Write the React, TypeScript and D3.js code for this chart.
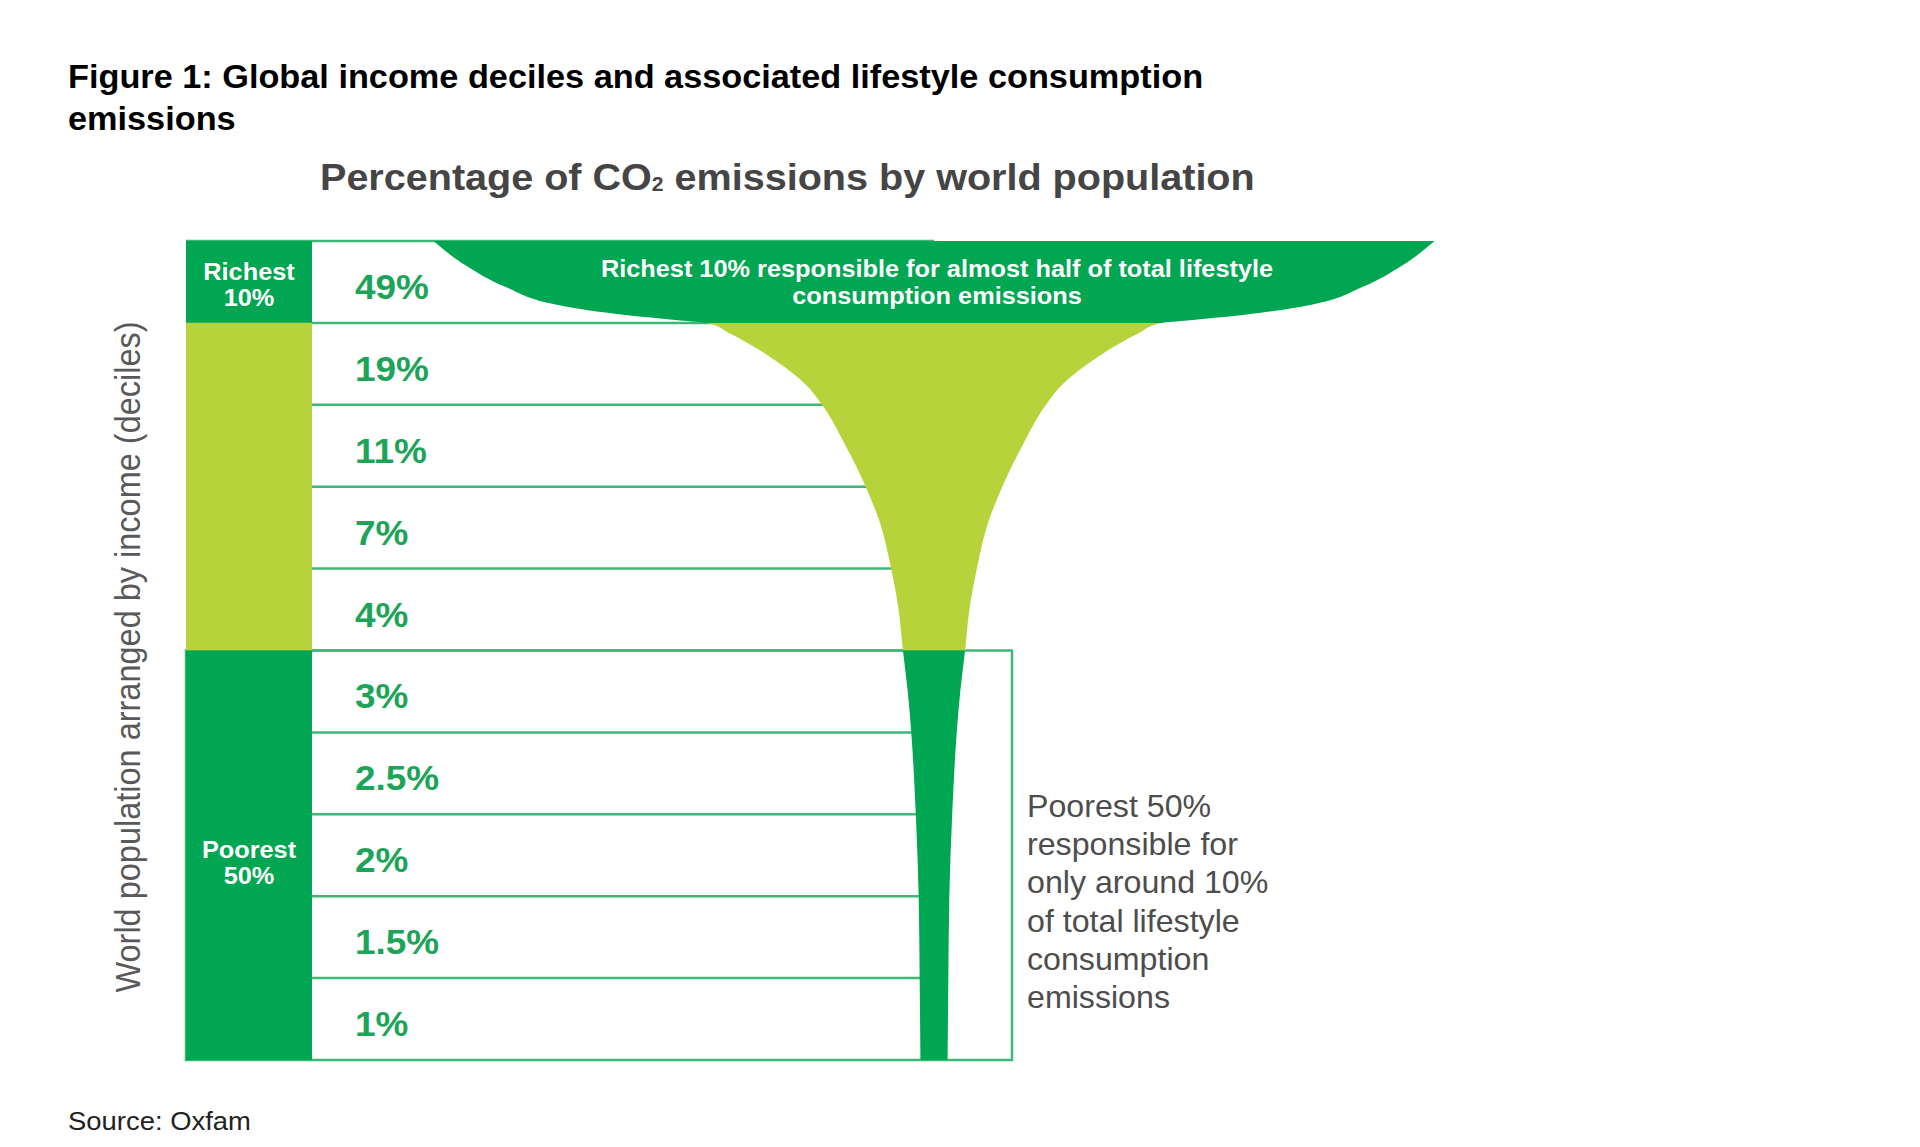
import React from "react";
import * as d3 from "d3";

// ---------- data ----------
const titleLines = [
  "Figure 1: Global income deciles and associated lifestyle consumption",
  "emissions",
];
const subtitleMain = "Percentage of CO";
const subtitleSub = "2";
const subtitleRest = " emissions by world population";
const yAxisLabel = "World population arranged by income (deciles)";
const sourceText = "Source: Oxfam";

// share of lifestyle consumption emissions per income decile (richest first)
const shares = [49, 19, 11, 7, 4, 3, 2.5, 2, 1.5, 1];
const shareLabels = ["49%", "19%", "11%", "7%", "4%", "3%", "2.5%", "2%", "1.5%", "1%"];

// income groups (in decile positions)
const groupNames = ["Richest 10%", "Middle 40%", "Poorest 50%"];
const groupLabelLines = [["Richest", "10%"], [], ["Poorest", "50%"]];
const groupFrom = [0, 1, 5];
const groupTo = [1, 5, 10];
const groupTone = ["dark", "light", "dark"];

// funnel outline: [decile position, width in emission-% units]
const funnelPos = [0, 0.3, 0.56, 0.78, 0.9, 0.97, 1.0, 1.125, 1.25, 1.5, 1.75, 2.0, 2.5, 3.0, 3.5, 4.0, 4.5, 5.0, 5.5, 6.0, 7.0, 8.0, 9.0, 10];
const funnelWidth = [57.2, 53.5, 49, 43, 35.5, 29, 26, 23.4, 21.2, 17.6, 14.7, 12.8, 10.1, 7.8, 6.0, 4.9, 4.05, 3.55, 3.0, 2.6, 2.08, 1.75, 1.64, 1.55];

const richNote = [
  "Richest 10% responsible for almost half of total lifestyle",
  "consumption emissions",
];
const poorNote = [
  "Poorest 50%",
  "responsible for",
  "only around 10%",
  "of total lifestyle",
  "consumption",
  "emissions",
];

// ---------- styling / layout ----------
const W = 1920;
const H = 1147;
const SX = 1.055; // horizontal stretch of the original artwork's text
const FONT = "'Liberation Sans', Arial, Helvetica, sans-serif";
const DARK = "#00a651";
const LIGHT = "#b7d33c";
const PCT = "#1da459";
const LINE = "#3fb877";

const TOP = 241;
const BOTTOM = 1060;
const COL_X0 = 186;
const COL_X1 = 312;
const CENTER = 934;
const PX_PER_PCT = 17.5;
const BOX_RIGHT = 1012;

function ST(props: {
  x: number;
  y: number;
  anchor?: "start" | "middle" | "end";
  size: number;
  weight?: string | number;
  fill: string;
  children: React.ReactNode;
  rotate?: number;
}) {
  const { x, y, anchor = "start", size, weight = "normal", fill, children, rotate } = props;
  const tr = `translate(${x},${y}) scale(${SX},1)` + (rotate ? ` rotate(${rotate})` : "");
  return (
    <text
      transform={tr}
      textAnchor={anchor}
      fontSize={size}
      fontWeight={weight}
      fill={fill}
      fontFamily={FONT}
    >
      {children}
    </text>
  );
}

export default function App() {
  const yScale = d3.scaleLinear().domain([0, 10]).range([TOP, BOTTOM]);
  const xScale = d3
    .scaleLinear()
    .domain([-50, 50])
    .range([CENTER - 50 * PX_PER_PCT, CENTER + 50 * PX_PER_PCT]);

  const profile: [number, number][] = funnelPos.map((p, i) => [p, funnelWidth[i]]);
  const area = d3
    .area<[number, number]>()
    .y((d) => yScale(d[0]))
    .x0((d) => xScale(-d[1] / 2))
    .x1((d) => xScale(d[1] / 2))
    .curve(d3.curveMonotoneY);
  const funnelPath = area(profile) || "";

  const toneColor = (t: string) => (t === "dark" ? DARK : LIGHT);

  return (
    <svg
      width={W}
      height={H}
      viewBox={`0 0 ${W} ${H}`}
      style={{ position: "absolute", left: 0, top: 0, background: "#fff" }}
    >
      <rect x={0} y={0} width={W} height={H} fill="#fff" />
      <defs>
        {groupNames.map((g, i) => (
          <clipPath id={`clip-${i}`} key={g}>
            <rect
              x={0}
              y={yScale(groupFrom[i])}
              width={W}
              height={yScale(groupTo[i]) - yScale(groupFrom[i])}
            />
          </clipPath>
        ))}
      </defs>

      {/* title */}
      {titleLines.map((t, i) => (
        <ST key={t} x={68} y={88 + i * 42} size={32.5} weight="bold" fill="#000">
          {t}
        </ST>
      ))}

      {/* subtitle */}
      <ST x={320} y={190} size={37.5} weight="bold" fill="#454545">
        {subtitleMain}
        <tspan fontSize={20} dy={1}>
          {subtitleSub}
        </tspan>
        <tspan dy={-1}>{subtitleRest}</tspan>
      </ST>

      {/* y axis label */}
      <ST x={140} y={657} size={32.5} fill="#595959" anchor="middle" rotate={-90}>
        {yAxisLabel}
      </ST>

      {/* row separators */}
      {d3.range(0, 10).map((i) => (
        <line
          key={`row-${i}`}
          x1={i === 0 ? COL_X0 : COL_X1}
          x2={CENTER}
          y1={yScale(i)}
          y2={yScale(i)}
          stroke={LINE}
          strokeWidth={2.5}
        />
      ))}

      {/* poorest half box */}
      <rect
        x={COL_X0}
        y={yScale(5)}
        width={BOX_RIGHT - COL_X0}
        height={yScale(10) - yScale(5)}
        fill="none"
        stroke={LINE}
        strokeWidth={2.5}
      />

      {/* group column */}
      {groupNames.map((g, i) => (
        <rect
          key={`col-${g}`}
          x={COL_X0}
          y={yScale(groupFrom[i])}
          width={COL_X1 - COL_X0}
          height={yScale(groupTo[i]) - yScale(groupFrom[i])}
          fill={toneColor(groupTone[i])}
        />
      ))}

      {/* funnel */}
      {groupNames.map((g, i) => (
        <path
          key={`funnel-${g}`}
          d={funnelPath}
          fill={toneColor(groupTone[i])}
          clipPath={`url(#clip-${i})`}
        />
      ))}

      {/* group labels */}
      {groupNames.map((g, i) => {
        const lines = groupLabelLines[i];
        if (!lines.length) return null;
        const mid = (yScale(groupFrom[i]) + yScale(groupTo[i])) / 2;
        const y0 = i === 0 ? mid - 2 : mid + 3;
        return (
          <g key={`lab-${g}`}>
            {lines.map((l, j) => (
              <ST
                key={l}
                x={(COL_X0 + COL_X1) / 2}
                y={y0 + j * 26}
                size={24}
                weight="bold"
                fill="#fff"
                anchor="middle"
              >
                {l}
              </ST>
            ))}
          </g>
        );
      })}

      {/* share labels */}
      {shares.map((s, i) => (
        <ST
          key={`pct-${i}`}
          x={355}
          y={yScale(i + 0.5) + 17}
          size={35}
          weight="bold"
          fill={PCT}
        >
          {shareLabels[i]}
        </ST>
      ))}

      {/* richest note */}
      {richNote.map((t, i) => (
        <ST key={t} x={CENTER + 3} y={277 + i * 27} size={24} weight="bold" fill="#fff" anchor="middle">
          {t}
        </ST>
      ))}

      {/* poorest note */}
      {poorNote.map((t, i) => (
        <ST key={t} x={1027} y={817 + i * 38.2} size={30.5} fill="#4d4d4d">
          {t}
        </ST>
      ))}

      {/* source */}
      <ST x={68} y={1130} size={26} fill="#222">
        {sourceText}
      </ST>
    </svg>
  );
}
